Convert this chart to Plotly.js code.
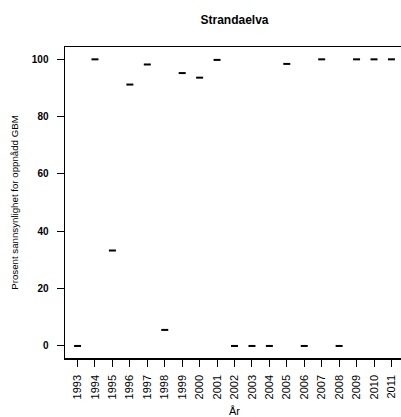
<!DOCTYPE html>
<html>
<head>
<meta charset="utf-8">
<script src="https://cdn.plot.ly/plotly-3.0.1.min.js"></script>
<style>html,body{margin:0;padding:0;overflow:hidden;background:#fff;}</style>
</head>
<body>
<div id="chart"></div>
<script>
const years = [1993,1994,1995,1996,1997,1998,1999,2000,2001,2002,2003,2004,2005,2006,2007,2008,2009,2010,2011];
const prob = [0,100,33.3,91.2,98.2,5.6,95.2,93.6,99.8,0,0,0,98.4,0,100,0,100,100,100];
const yTicks = [0,20,40,60,80,100];
const chartTitle = "Strandaelva";
const yTitle = "Prosent sannsynlighet for oppnådd GBM";
const xTitle = "År";

const font = 'Liberation Sans, Arial, sans-serif';

Plotly.newPlot('chart', [{
  x: years, y: prob, type: 'scatter', mode: 'markers',
  marker: {symbol: 'line-ew', size: 5, color: 'black', line: {color: 'black', width: 2}},
  hoverinfo: 'x+y'
}], {
  width: 405, height: 417,
  margin: {l: 65, r: 1, t: 47, b: 59},
  paper_bgcolor: 'white', plot_bgcolor: 'white',
  showlegend: false,
  title: {text: chartTitle, font: {family: font, size: 12, color: 'black', weight: 'bold'},
          x: 0.5, xref: 'paper', y: 1 - 20/417, yref: 'container', yanchor: 'middle'},
  xaxis: {
    range: [1992.28, 2011.72], tickmode: 'array', tickvals: years, ticktext: years.map(String),
    tickangle: -90, ticks: 'outside', ticklen: 7, tickwidth: 1, tickcolor: 'black',
    ticklabelstandoff: 4,
    tickfont: {family: font, size: 11, color: 'black'},
    showline: true, linecolor: 'black', linewidth: 1.5, mirror: true,
    showgrid: false, zeroline: false,
    title: {text: xTitle, font: {family: font, size: 11, color: 'black'}, standoff: 9}
  },
  yaxis: {
    range: [-4.2, 104.3], tickmode: 'array', tickvals: yTicks, ticktext: yTicks.map(String),
    ticks: 'outside', ticklen: 7, tickwidth: 1, tickcolor: 'black',
    ticklabelstandoff: 6,
    tickfont: {family: font, size: 10, color: 'black', weight: 'bold'},
    showline: true, linecolor: 'black', linewidth: 1.5, mirror: true,
    showgrid: false, zeroline: false,
    title: {text: yTitle, font: {family: font, size: 9.7, color: 'black'}, standoff: 11}
  }
}, {displayModeBar: false, staticPlot: true});
</script>
</body>
</html>
